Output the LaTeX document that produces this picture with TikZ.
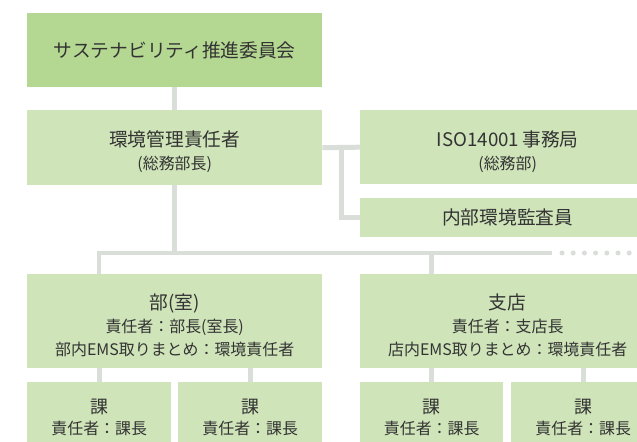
\documentclass[tikz,border=0pt]{standalone}
\usepackage{fontspec}
\setmainfont{Noto Sans CJK JP}
\usetikzlibrary{backgrounds}
\definecolor{gdark}{HTML}{B4D892}
\definecolor{glight}{HTML}{CFE4B9}
\definecolor{connc}{HTML}{D9DED9}
\definecolor{txt}{HTML}{333333}
\newcommand\myBig{\fontsize{18.8}{22}\selectfont}
\newcommand\myMid{\fontsize{18}{21}\selectfont}
\newcommand\mySmall{\fontsize{16}{23}\selectfont}
\newcommand\mySub{\fontsize{16}{21.5}\selectfont}
\newcommand\myTopStrut{\rule{0pt}{24bp}}
\tikzset{
  box/.style={draw=none, fill=glight, anchor=north west, inner sep=0pt,
    align=center, text=txt, font=\mySmall},
  topbox/.style={box, fill=gdark},
  subbox/.style={box, font=\mySub, minimum height=71bp},
  conn/.style={draw=connc, line width=5bp},
  bus/.style={draw=connc, line width=4.5bp},
}
\begin{document}
\begin{tikzpicture}[x=1bp,y=-1bp]
\useasboundingbox (0,0) rectangle (637,442);
\clip (0,0) rectangle (637,442);
% boxes
\node[topbox, minimum width=295bp, minimum height=74bp, font=\myBig] (top) at (27,13) {サステナビリティ推進委員会};
\node[box, minimum width=295bp, minimum height=75bp] (mgr) at (27,110) {\myTopStrut{\myBig 環境管理責任者}\\(総務部長)};
\node[box, minimum width=295bp, minimum height=74bp] (iso) at (360,110) {\myTopStrut{\myBig ISO14001\hspace{3bp}事務局}\\(総務部)};
\node[box, minimum width=295bp, minimum height=39bp, font=\myBig] (audit) at (360,198) {内部環境監査員};
\node[box, minimum width=295bp, minimum height=94bp] (dept) at (27,274) {\myTopStrut{\myBig 部(室)}\\責任者：部長(室長)\\部内EMS取りまとめ：環境責任者};
\node[box, minimum width=295bp, minimum height=94bp] (branch) at (360,274) {\myTopStrut{\myBig 支店}\\責任者：支店長\\店内EMS取りまとめ：環境責任者};
\node[subbox, minimum width=144bp] (s1) at (27,382) {{\myMid 課}\\責任者：課長};
\node[subbox, minimum width=144bp] (s2) at (178,382) {{\myMid 課}\\責任者：課長};
\node[subbox, minimum width=143bp] (s3) at (360,382) {{\myMid 課}\\責任者：課長};
\node[subbox, minimum width=144bp] (s4) at (511,382) {{\myMid 課}\\責任者：課長};
% connectors
\coordinate (busL) at (99,253);
\coordinate (busR) at (552,253);
\coordinate (busM) at (mgr.south |- busL);
\coordinate (busB) at (s3.north |- busL);
\coordinate (jn) at (341.5,147.5);
\begin{scope}[on background layer]
\fill[white] (0,0) rectangle (637,442);
\draw[conn] (top.south) -- (mgr.north);
\draw[conn] (mgr.south) -- (busM);
\draw[bus] (busL |- dept.north) -- (busL) -- (busR);
\draw[conn] (busB) -- (busB |- branch.north);
\draw[conn] (mgr.east) -- (iso.west);
\draw[conn] (jn) |- (audit.west);
\draw[conn] (dept.south -| s1.north) -- (s1.north);
\draw[conn] (dept.south -| s2.north) -- (s2.north);
\draw[conn] (branch.south -| s3.north) -- (s3.north);
\draw[conn] (branch.south -| s4.north) -- (s4.north);
\foreach \i in {0,...,6} \fill[connc] (562+11.2*\i,253) circle (2.5bp);
\end{scope}
\end{tikzpicture}
\end{document}
